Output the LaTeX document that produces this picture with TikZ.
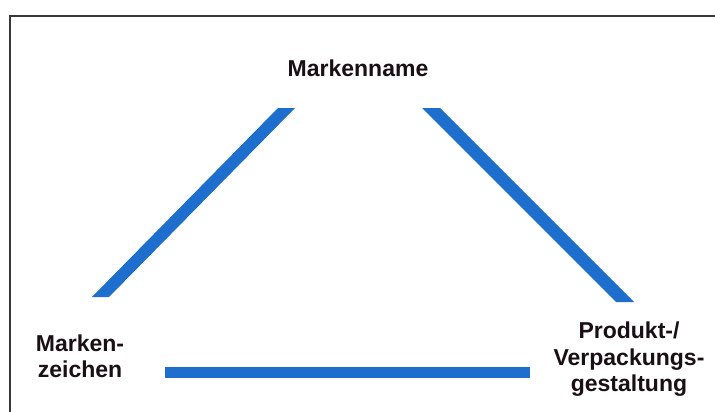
\documentclass[tikz,border=0pt]{standalone}
\usepackage{fontspec}
\setmainfont{Liberation Sans}
\definecolor{bandblue}{RGB}{30,110,205}
\definecolor{framegray}{RGB}{55,55,60}
\definecolor{labelink}{RGB}{25,15,20}
\begin{document}
\begin{tikzpicture}[x=1pt,y=-1pt,
  lbl/.style={inner sep=0pt,font=\fontsize{23}{26.5}\selectfont\bfseries,text=labelink,align=center},
  band/.style={fill=bandblue},
  framing/.style={draw=framegray,line width=1.2pt}]
\useasboundingbox (0,0) rectangle (715,412);
\fill[white] (0,0) rectangle (715,412);
% frame
\coordinate (fb) at (10,412);
\coordinate (fc) at (10,16);
\coordinate (fr) at (715,16);
\draw[framing] (fb) -- (fc) -- (fr);
% labels
\node[lbl,anchor=base] (name) at (358,77) {Markenname};
\node[lbl] (zeichen) at (80,356.5) {Marken-\\zeichen};
\node[lbl] (produkt) at (629,359.5) {Produkt-/\\Verpackungs-\\gestaltung};
% bands
\coordinate (l1) at (278,108); \coordinate (l2) at (295,108);
\coordinate (l3) at (109,297); \coordinate (l4) at (92,297);
\fill[band] (l1) -- (l2) -- (l3) -- (l4) -- cycle;
\coordinate (r1) at (422,108); \coordinate (r2) at (440,108);
\coordinate (r3) at (634,302); \coordinate (r4) at (616,302);
\fill[band] (r1) -- (r2) -- (r3) -- (r4) -- cycle;
\coordinate (b1) at (165,367); \coordinate (b2) at (530,378);
\fill[band] (b1) rectangle (b2);
\end{tikzpicture}
\end{document}
